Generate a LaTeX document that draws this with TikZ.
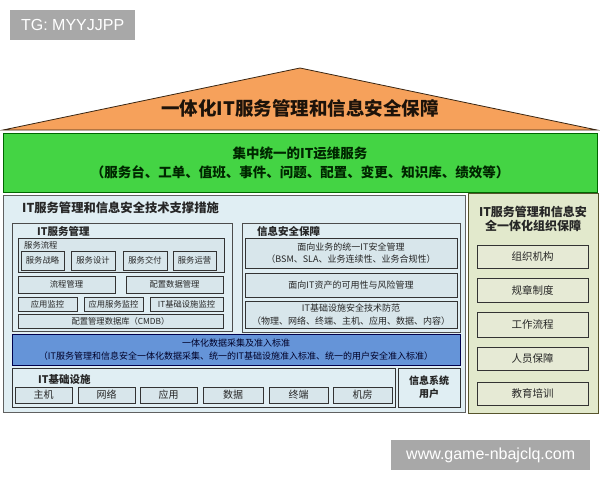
\documentclass[tikz,border=0pt]{standalone}
\usepackage{fontspec}
\setmainfont{Liberation Sans}
\newfontfamily\cjk{Noto Sans CJK SC}
\definecolor{roofc}{HTML}{F6A15B}
\definecolor{greenc}{HTML}{44D444}
\definecolor{panelc}{HTML}{E0EEF3}
\definecolor{boxc}{HTML}{D8E6EB}
\definecolor{bluec}{HTML}{6594D8}
\definecolor{olivec}{HTML}{E2E9CC}
\definecolor{obox}{HTML}{E6EAD5}
\definecolor{wmc}{HTML}{A8A8A8}
\definecolor{txt}{HTML}{262626}
\tikzset{
  x=1pt,y=-1pt,
  base/.style={anchor=north west,inner sep=0pt,outer sep=0pt,align=center,text=txt,font=\cjk},
  panel/.style={base,draw=gray!75!black,line width=0.8pt,fill=panelc},
  ibox/.style={base,draw=black!80,line width=0.8pt,fill=boxc},
  obx/.style={base,draw=black!80,line width=0.8pt,fill=obox,font=\cjk\fontsize{10.5}{12}\selectfont},
  lbl/.style={anchor=west,inner sep=0pt,text=txt},
  wm/.style={anchor=north west,inner sep=0pt,fill=wmc,text=white,font=\fontsize{16}{18}\selectfont},
}
\newcommand{\sm}{\fontsize{8.3}{10}\selectfont}
\newcommand{\md}{\fontsize{9}{12.5}\selectfont}
\begin{document}
\begin{tikzpicture}
\useasboundingbox[fill=white] (0,0) rectangle (600,480);
% watermark top
\node[wm,minimum width=125pt,minimum height=30pt] (tg) at (10,10) {TG: MYYJJPP};
% roof
\coordinate (rl) at (3,130); \coordinate (rp) at (300,68); \coordinate (rr) at (597,130);
\draw[fill=roofc,draw=black!70!brown,line width=0.8pt] (rl) -- (rp) -- (rr) -- cycle;
\node[text=black!85!brown,font=\cjk\bfseries\fontsize{18.5}{20}\selectfont] (rooft) at (300,108) {一体化IT服务管理和信息安全保障};
% green band
\node[base,draw=black!60!green,line width=0.8pt,fill=greenc,minimum width=594pt,minimum height=59pt,
  font=\cjk\bfseries\fontsize{13.5}{19}\selectfont,text=black!85!green] (green) at (3,133)
  {集中统一的IT运维服务\\（服务台、工单、值班、事件、问题、配置、变更、知识库、绩效等）};
% left panel
\node[panel,minimum width=462pt,minimum height=217pt] (left) at (3,195) {};
\node[lbl,font=\cjk\bfseries\fontsize{12.3}{14}\selectfont] (leftt) at (22,208) {IT服务管理和信息安全技术支撑措施};
% ITSM
\node[panel,draw=black!70,minimum width=220pt,minimum height=108pt] (itsm) at (12,223) {};
\node[lbl,font=\cjk\bfseries\fontsize{10.5}{12}\selectfont] (itsmt) at (37,231) {IT服务管理};
\node[ibox,minimum width=206pt,minimum height=34pt] (flow) at (18,238) {};
\node[lbl,font=\cjk\sm] (flowt) at (24,245) {服务流程};
\node[ibox,minimum width=43pt,minimum height=19pt,font=\cjk\sm] (s1) at (21,251) {服务战略};
\node[ibox,minimum width=44pt,minimum height=19pt,font=\cjk\sm] (s2) at (71,251) {服务设计};
\node[ibox,minimum width=44pt,minimum height=19pt,font=\cjk\sm] (s3) at (123,251) {服务交付};
\node[ibox,minimum width=43pt,minimum height=19pt,font=\cjk\sm] (s4) at (173,251) {服务运营};
\node[ibox,minimum width=97pt,minimum height=17pt,font=\cjk\sm] (pm) at (18,276) {流程管理};
\node[ibox,minimum width=97pt,minimum height=17pt,font=\cjk\sm] (cm) at (126,276) {配置数据管理};
\node[ibox,minimum width=59pt,minimum height=14pt,font=\cjk\sm] (am) at (18,297) {应用监控};
\node[ibox,minimum width=59pt,minimum height=14pt,font=\cjk\sm] (asm) at (84,297) {应用服务监控};
\node[ibox,minimum width=73pt,minimum height=14pt,font=\cjk\sm] (im) at (150,297) {IT基础设施监控};
\node[ibox,minimum width=205pt,minimum height=14pt,font=\cjk\sm] (cmdb) at (18,314) {配置管理数据库（CMDB）};
% InfoSec
\node[panel,draw=black!70,minimum width=218pt,minimum height=109pt] (sec) at (242,223) {};
\node[lbl,font=\cjk\bfseries\fontsize{10.5}{12}\selectfont] (sect) at (257,231) {信息安全保障};
\node[ibox,minimum width=212pt,minimum height=30pt,font=\cjk\md] (sb1) at (245,238) {面向业务的统一IT安全管理\\（BSM、SLA、业务连续性、业务合规性）};
\node[ibox,minimum width=212pt,minimum height=24pt,font=\cjk\md] (sb2) at (245,273) {面向IT资产的可用性与风险管理};
\node[ibox,minimum width=212pt,minimum height=27pt,font=\cjk\md] (sb3) at (245,301) {IT基础设施安全技术防范\\（物理、网络、终端、主机、应用、数据、内容）};
% blue band
\node[base,draw=black!70!blue,line width=0.8pt,fill=bluec,minimum width=448pt,minimum height=31pt,
  font=\cjk\md,text=black!85!blue] (blue) at (12,334)
  {一体化数据采集及准入标准\\（IT服务管理和信息安全一体化数据采集、统一的IT基础设施准入标准、统一的用户安全准入标准）};
% IT infra
\node[ibox,fill=panelc,minimum width=383pt,minimum height=39pt] (infra) at (12,368) {};
\node[lbl,font=\cjk\bfseries\fontsize{10.5}{12}\selectfont] (infrat) at (38,379) {IT基础设施};
\node[ibox,minimum width=57pt,minimum height=16pt,font=\cjk\fontsize{10}{12}\selectfont] (i1) at (15,387) {主机};
\node[ibox,minimum width=57pt,minimum height=16pt,font=\cjk\fontsize{10}{12}\selectfont] (i2) at (78,387) {网络};
\node[ibox,minimum width=57pt,minimum height=16pt,font=\cjk\fontsize{10}{12}\selectfont] (i3) at (140,387) {应用};
\node[ibox,minimum width=60pt,minimum height=16pt,font=\cjk\fontsize{10}{12}\selectfont] (i4) at (203,387) {数据};
\node[ibox,minimum width=59pt,minimum height=16pt,font=\cjk\fontsize{10}{12}\selectfont] (i5) at (269,387) {终端};
\node[ibox,minimum width=59pt,minimum height=16pt,font=\cjk\fontsize{10}{12}\selectfont] (i6) at (333,387) {机房};
\node[ibox,fill=panelc,minimum width=62pt,minimum height=39pt,font=\cjk\bfseries\fontsize{10}{13}\selectfont] (user) at (398,368) {信息系统\\用户};
% right panel
\node[base,draw=black!50!olive,line width=0.8pt,fill=olivec,minimum width=130pt,minimum height=220pt] (right) at (468,193) {};
\node[text=txt,font=\cjk\bfseries\fontsize{12}{14.5}\selectfont,align=center,inner sep=0pt] (rightt) at (533,219) {IT服务管理和信息安\\全一体化组织保障};
\node[obx,minimum width=111pt,minimum height=23pt] (o1) at (477,245) {组织机构};
\node[obx,minimum width=111pt,minimum height=24pt] (o2) at (477,278) {规章制度};
\node[obx,minimum width=111pt,minimum height=25pt] (o3) at (477,312) {工作流程};
\node[obx,minimum width=111pt,minimum height=23pt] (o4) at (477,347) {人员保障};
\node[obx,minimum width=111pt,minimum height=23pt] (o5) at (477,382) {教育培训};
% watermark bottom
\node[wm,minimum width=199pt,minimum height=30pt] (site) at (391,440) {www.game-nbajclq.com};
\end{tikzpicture}
\end{document}
